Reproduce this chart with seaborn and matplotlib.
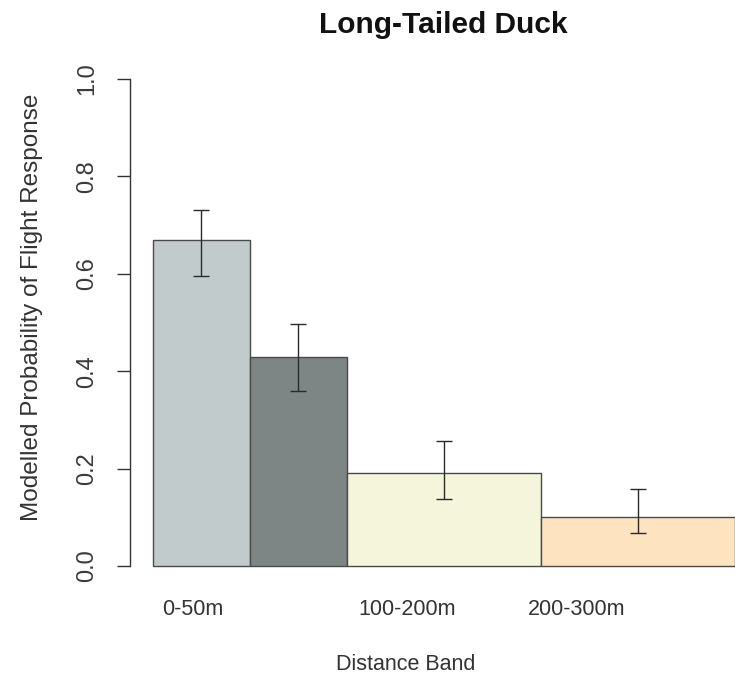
import matplotlib
matplotlib.use("Agg")
import matplotlib.pyplot as plt
import seaborn as sns
import pandas as pd

# ---- data ----
bands = ["0-50m", "50-100m", "100-200m", "200-300m"]
band_lo = [0, 50, 100, 200]
band_hi = [50, 100, 200, 300]
prob = [0.669, 0.430, 0.190, 0.100]
ci_low = [0.595, 0.360, 0.137, 0.068]
ci_high = [0.731, 0.497, 0.257, 0.158]
shown_labels = ["0-50m", "100-200m", "200-300m"]
yticks = [0.0, 0.2, 0.4, 0.6, 0.8, 1.0]
ytick_labels = ["0.0", "0.2", "0.4", "0.6", "0.8", "1.0"]
title = "Long-Tailed Duck"
xlabel = "Distance Band"
ylabel = "Modelled Probability of Flight Response"

# ---- layout / style ----
label_pos = [20.6, 131.2, 218.6]
colors = ["#c2cbcb", "#7d8684", "#f5f5dc", "#fee3c1"]

sns.set_style("white")
plt.rcParams["font.family"] = ["Liberation Sans", "DejaVu Sans"]

W, H = 735, 677
fig = plt.figure(figsize=(W / 100, H / 100), dpi=100)
ax_left, ax_right = 129.7, 758.3
ax_top, ax_bot = 59.5, 585.5
ax = fig.add_axes([ax_left / W, 1 - ax_bot / H, (ax_right - ax_left) / W, (ax_bot - ax_top) / H])

df = pd.DataFrame({"band": bands, "prob": prob})
sns.barplot(data=df, x="band", y="prob", hue="band", palette=colors, legend=False,
            saturation=1, edgecolor="#4a4a4a", linewidth=1.0, ax=ax, errorbar=None)

patches = sorted(ax.patches, key=lambda p: p.get_x())
for p, lo, hi in zip(patches, band_lo, band_hi):
    p.set_x(lo)
    p.set_width(hi - lo)

mids = [(lo + hi) / 2 for lo, hi in zip(band_lo, band_hi)]
yerr = [[v - l for v, l in zip(prob, ci_low)], [h - v for v, h in zip(prob, ci_high)]]
ax.errorbar(mids, prob, yerr=yerr, fmt="none", ecolor="#2a2a2a", elinewidth=1.0,
            capsize=5.8, capthick=1.0)

ax.set_xlim(-12, 312)
ax.set_ylim(-0.04, 1.04)

for s in ["top", "right", "bottom"]:
    ax.spines[s].set_visible(False)
ax.spines["left"].set_bounds(0, 1)
ax.spines["left"].set_color("#333333")
ax.spines["left"].set_linewidth(1.0)

ax.set_yticks(yticks, ytick_labels)
ax.tick_params(axis="y", direction="out", length=9.4, width=1.0, color="#333333",
               labelsize=17, labelcolor="#3a3a3a", pad=13, left=True, labelrotation=90)
for t in ax.get_yticklabels():
    t.set_va("center")

ax.set_xticks(label_pos, shown_labels)
ax.tick_params(axis="x", length=0, labelsize=15.5, labelcolor="#333333", pad=10)

ax.set_xlabel("")
ax.set_ylabel("")

fig.text(443 / W, 1 - 33 / H, title, ha="center", va="baseline", fontsize=21.5,
         fontweight="bold", color="#111111")
fig.text(406 / W, 1 - 670 / H, xlabel, ha="center", va="baseline", fontsize=15.5,
         color="#333333")
fig.text(32 / W, 1 - 307.5 / H, ylabel, ha="center", va="center", rotation=90,
         fontsize=17.5, color="#333333")

fig.savefig("out.png", dpi=100)
